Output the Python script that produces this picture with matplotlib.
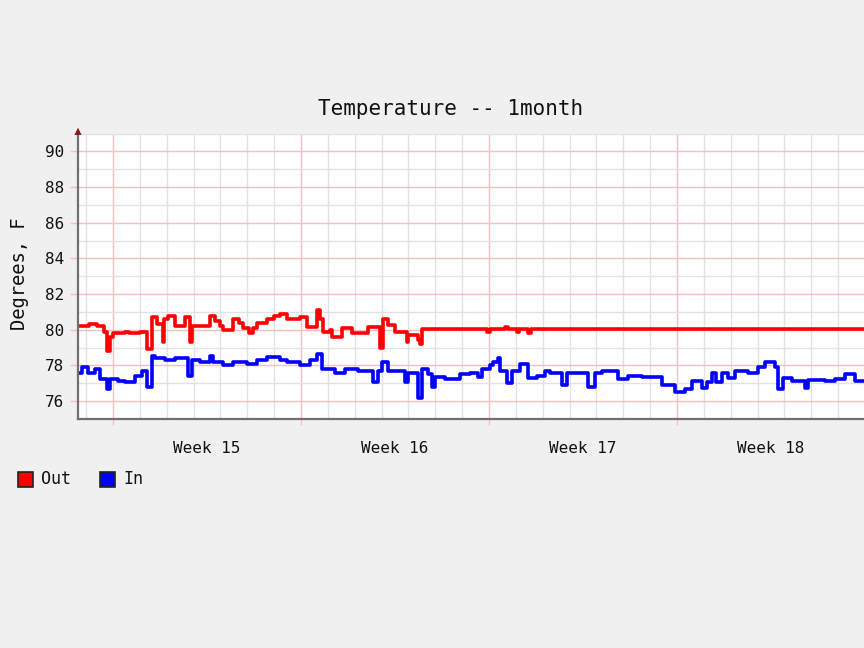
import matplotlib
matplotlib.use("Agg")
import matplotlib.pyplot as plt
from matplotlib.patches import Rectangle
from matplotlib.ticker import MultipleLocator, FixedLocator, NullFormatter

# ---------------- data (days relative to start of week 15, degrees F) ----------------
out_days = [-1.30, -0.90, -0.60, -0.35, -0.22, -0.12, 0.00, 0.45, 0.60, 1.00, 1.27, 1.45,
            1.65, 1.86, 1.92, 2.05, 2.31, 2.68, 2.87, 2.94, 3.24, 3.61, 3.80, 3.98, 4.10,
            4.47, 4.70, 4.84, 5.05, 5.20, 5.36, 5.73, 6.00, 6.22, 6.48, 6.96, 7.22, 7.60,
            7.71, 7.82, 8.08, 8.15, 8.53, 8.90, 9.49, 9.94, 10.05, 10.24, 10.50, 10.95,
            11.00, 11.36, 11.43, 11.50, 12.40, 13.92, 14.02, 14.59, 14.70, 15.04, 15.12,
            15.45, 15.56, 27.96]
out_vals = [80.2, 80.3, 80.2, 79.9, 78.8, 79.6, 79.8, 79.9, 79.8, 79.85, 78.9, 80.7,
            80.3, 79.3, 80.6, 80.8, 80.2, 80.7, 79.3, 80.2, 80.2, 80.8, 80.5, 80.2, 80.0,
            80.6, 80.4, 80.1, 79.8, 80.1, 80.4, 80.6, 80.8, 80.9, 80.6, 80.7, 80.15, 81.1,
            80.6, 79.85, 80.0, 79.6, 80.1, 79.8, 80.15, 79.0, 80.6, 80.25, 79.85, 79.3,
            79.7, 79.4, 79.2, 80.05, 80.05, 79.85, 80.05, 80.15, 80.05, 79.9, 80.05,
            79.8, 80.05, 80.05]

in_days = [-1.30, -1.15, -0.93, -0.67, -0.48, -0.22, -0.11, 0.19, 0.45, 0.82, 1.08, 1.27,
           1.45, 1.56, 1.94, 2.31, 2.79, 2.94, 3.24, 3.61, 3.72, 4.10, 4.47, 4.99, 5.36,
           5.73, 6.22, 6.48, 6.96, 7.33, 7.60, 7.78, 8.27, 8.64, 9.12, 9.68, 9.87, 10.01,
           10.24, 10.87, 10.98, 11.36, 11.50, 11.73, 11.88, 11.99, 12.36, 12.92, 13.29,
           13.59, 13.74, 14.04, 14.15, 14.33, 14.41, 14.67, 14.85, 15.15, 15.45, 15.79,
           16.08, 16.27, 16.72, 16.90, 17.68, 17.95, 18.21, 18.80, 19.17, 19.70, 20.44,
           20.92, 21.30, 21.56, 21.93, 22.11, 22.30, 22.45, 22.67, 22.90, 23.16, 23.64,
           24.01, 24.27, 24.65, 24.76, 24.94, 25.28, 25.76, 25.87, 26.51, 26.88, 27.25,
           27.62, 27.96]
in_vals = [77.6, 77.9, 77.6, 77.8, 77.25, 76.7, 77.25, 77.15, 77.05, 77.4, 77.7, 76.8,
           78.55, 78.4, 78.3, 78.4, 77.4, 78.3, 78.2, 78.55, 78.2, 78.0, 78.2, 78.1, 78.3,
           78.45, 78.3, 78.2, 78.0, 78.3, 78.65, 77.8, 77.6, 77.8, 77.7, 77.05, 77.7, 78.2,
           77.7, 77.05, 77.6, 76.2, 77.8, 77.5, 76.8, 77.35, 77.25, 77.5, 77.6,
           77.35, 77.8, 78.0, 78.2, 78.4, 77.7, 77.0, 77.7, 78.1, 77.3, 77.4,
           77.7, 77.6, 76.9, 77.6, 76.8, 77.6, 77.7, 77.25, 77.4, 77.35, 76.9,
           76.5, 76.7, 77.15, 76.75, 77.1, 77.6, 77.05, 77.6, 77.3, 77.7, 77.6,
           77.9, 78.2, 77.9, 76.7, 77.3, 77.15, 76.75, 77.2, 77.15, 77.25, 77.5,
           77.15, 77.15]

week_labels = ["Week 15", "Week 16", "Week 17", "Week 18"]
week_centers = [3.5, 10.5, 17.5, 24.5]
week_starts = [0, 7, 14, 21]
y_ticks = [76, 78, 80, 82, 84, 86, 88, 90]
series_names = ["Out", "In"]
series_colors = ["#FF0000", "#0000FF"]

# ---------------- figure ----------------
BG = "#F0F0F0"
MONO = "DejaVu Sans Mono"
fig = plt.figure(figsize=(8.64, 6.48), dpi=100, facecolor=BG)
ax = fig.add_axes([78/864, 1-419/648, 1-78/864, (419-133.5)/648])
ax.set_facecolor("white")
ax.set_xlim(-1.30, 27.96)
ax.set_ylim(75, 91)

# grids
ax.xaxis.set_major_locator(FixedLocator(week_starts))
ax.xaxis.set_minor_locator(MultipleLocator(1))
ax.yaxis.set_major_locator(FixedLocator(y_ticks))
ax.yaxis.set_minor_locator(MultipleLocator(1))
ax.grid(which="minor", color="#E2E2E2", linewidth=1.0)
ax.grid(which="major", color="#F6BEBE", linewidth=1.0)
ax.set_axisbelow(True)
ax.xaxis.set_major_formatter(NullFormatter())
ax.tick_params(axis="x", which="major", length=4, color="#F6BEBE", width=1)
ax.tick_params(axis="x", which="minor", length=0)
ax.tick_params(axis="y", which="major", length=6, color="#F6BEBE", width=1,
               labelsize=11.5, labelcolor="#111111", pad=4)
ax.tick_params(axis="y", which="minor", length=0)
for lab in ax.get_yticklabels():
    lab.set_fontfamily(MONO)

for s in ["top", "right"]:
    ax.spines[s].set_visible(False)
for s in ["left", "bottom"]:
    ax.spines[s].set_color("#707070")
    ax.spines[s].set_linewidth(1.6)

# data
ax.plot(out_days, out_vals, drawstyle="steps-post", color=series_colors[0], lw=2.6,
        solid_joinstyle="round")
ax.plot(in_days, in_vals, drawstyle="steps-post", color=series_colors[1], lw=2.6,
        solid_joinstyle="round")

# week labels
for c, lab in zip(week_centers, week_labels):
    ax.text(c, -0.105, lab, transform=ax.get_xaxis_transform(), ha="center", va="center",
            fontsize=11.5, family=MONO, color="#111111")

# y-axis arrow
ax.annotate("", xy=(0, 1.03), xytext=(0, 0.985), xycoords="axes fraction",
            arrowprops=dict(arrowstyle="-|>", color="#8B1A1A", lw=0, mutation_scale=13),
            annotation_clip=False)

# title and axis label
fig.text(451/864, 1-109/648, "Temperature -- 1month", ha="center", va="center",
         fontsize=15, family=MONO, color="#111111")
fig.text(20/864, 1-274/648, "Degrees, F", rotation=90, ha="center", va="center",
         fontsize=13.5, family=MONO, color="#111111")

# legend
for i, (name, col) in enumerate(zip(series_names, series_colors)):
    x0 = [18, 100][i]
    fig.patches.append(Rectangle((x0/864, 1-487/648), 15/864, 15/648, transform=fig.transFigure,
                                 facecolor=col, edgecolor="#222222", lw=1.2))
    fig.text((x0+23)/864, 1-479/648, name, ha="left", va="center", fontsize=12,
             family=MONO, color="#111111")

fig.savefig("out.png", dpi=100, facecolor=BG)
